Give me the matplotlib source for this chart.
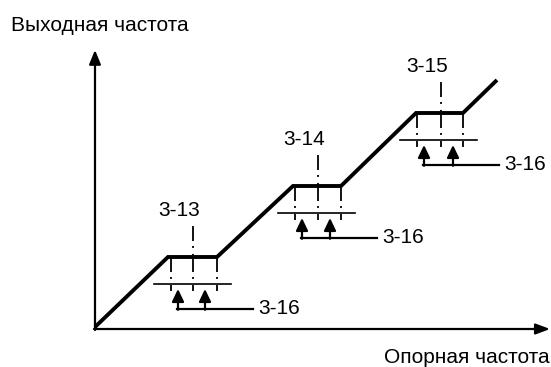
import numpy as np
import matplotlib.pyplot as plt

plt.rcParams['font.family'] = ['Liberation Sans', 'DejaVu Sans']
plt.rcParams['lines.scale_dashes'] = False

# все координаты в пикселях картинки (y вниз)
origin = (95, 329)
x_axis_end = 550
y_axis_end = 50

# ломаная выходной частоты
curve_x = [95, 168, 217, 293, 341, 416, 463, 497]
curve_y = [327, 257, 257, 186, 186, 113, 113, 80]

# зоны пропуска частот
jump_left = [171, 295, 417]
jump_mid = [193, 318, 441]
jump_right = [217, 341, 463]
jump_y = [257, 186, 113]
jump_labels = ['3-13', '3-14', '3-15']
width_label = '3-16'

x_title = 'Опорная частота'
y_title = 'Выходная частота'

fs = 15
dash = (0, (10.8, 3.6, 1.4, 4.3))

fig = plt.figure(figsize=(5.51, 3.67), dpi=100)
ax = fig.add_axes([0, 0, 1, 1])
ax.set_xlim(0, 551)
ax.set_ylim(367, 0)
ax.axis('off')

# оси
ax.annotate('', xy=(x_axis_end, origin[1]), xytext=(origin[0] - 1, origin[1]),
            arrowprops=dict(arrowstyle='-|>,head_length=0.85,head_width=0.32',
                            mutation_scale=10, lw=1.6, color='k',
                            shrinkA=0, shrinkB=0))
ax.annotate('', xy=(origin[0], y_axis_end), xytext=(origin[0], origin[1] + 1),
            arrowprops=dict(arrowstyle='-|>,head_length=0.85,head_width=0.35',
                            mutation_scale=10, lw=1.6, color='k',
                            shrinkA=0, shrinkB=0))

ax.plot(curve_x, curve_y, color='k', lw=2.8, solid_capstyle='butt',
        solid_joinstyle='miter')

for L, M, R, F, lab in zip(jump_left, jump_mid, jump_right, jump_y, jump_labels):
    for xv in (L, M, R):
        ax.plot([xv, xv], [F, F + 34], color='k', lw=1.3, linestyle=dash)
    ax.plot([M, M], [F - 31, F - 1], color='k', lw=1.3, linestyle=dash)
    # линия ширины зоны
    ax.plot([L - 17, R + 14], [F + 27, F + 27], color='k', lw=1.2)
    # стрелки и скобка
    a1 = L + 7
    a2 = M + 12
    yb = F + 52
    for xa in (a1, a2):
        ax.annotate('', xy=(xa, F + 32), xytext=(xa, yb + 0.8),
                    arrowprops=dict(arrowstyle='-|>,head_length=0.75,head_width=0.36',
                                    mutation_scale=10, lw=1.6, color='k',
                                    shrinkA=0, shrinkB=0))
    ax.plot([a1 - 0.8, R + 36], [yb, yb], color='k', lw=1.6)
    ax.text(R + 41, yb + 5, width_label, fontsize=fs, ha='left', va='baseline')
    ax.text(M - 14, F - 41, lab, fontsize=fs, ha='center', va='baseline')

ax.text(11, 31, y_title, fontsize=fs, ha='left', va='baseline')
ax.text(550, 363, x_title, fontsize=fs, ha='right', va='baseline')

fig.savefig('out.png', dpi=100)
